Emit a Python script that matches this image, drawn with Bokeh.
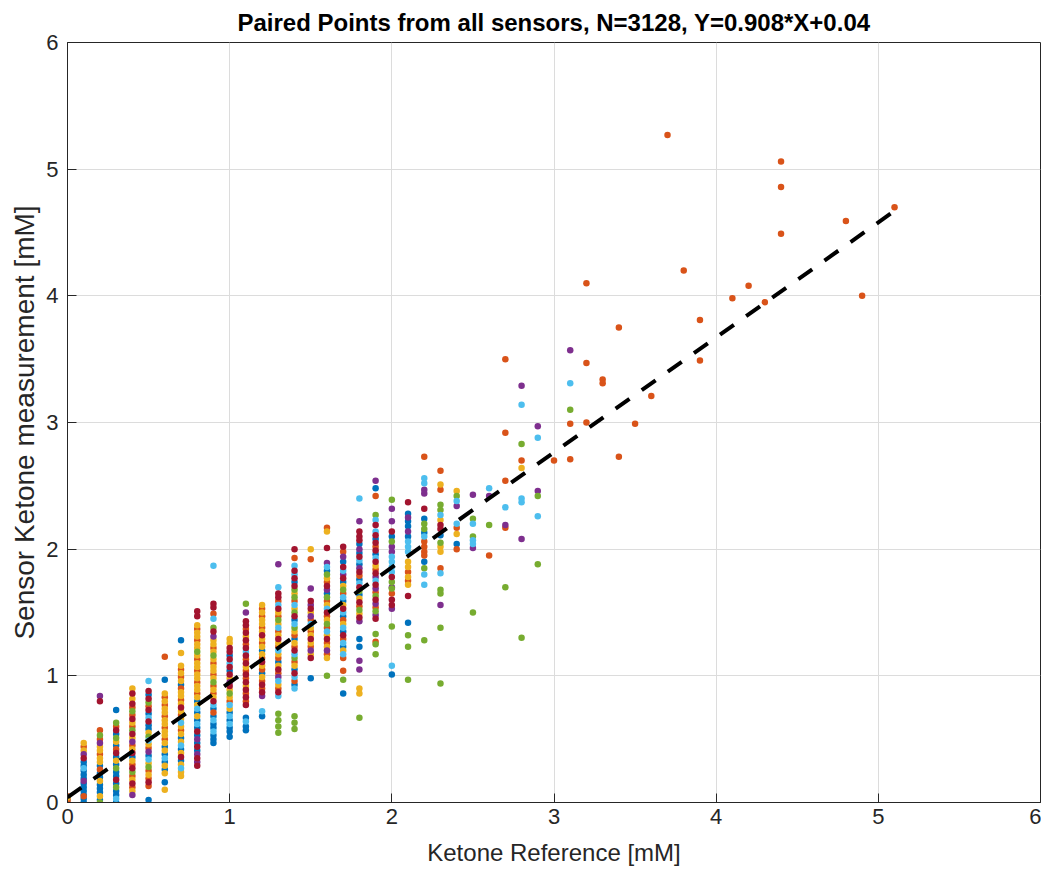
from bokeh.plotting import figure
from bokeh.models import Range1d, FixedTicker
from bokeh.embed import file_html
from bokeh.resources import INLINE

# ---- data: sensor readings grouped by plot colour, keyed by reference value ----
BLUE = {
    0.0: [0.03],
    0.1: [0.32, 0.29, 0.25, 0.22, 0.19, 0.15, 0.12, 0.09, 0.06, 0.03, 0.0],
    0.2: [0.29, 0.23, 0.2, 0.14, 0.11, 0.08, 0.02],
    0.3: [0.73, 0.54, 0.45, 0.36, 0.3, 0.24, 0.21, 0.15, 0.09, 0.06, 0.0],
    0.4: [0.36],
    0.5: [0.85, 0.7, 0.61, 0.58, 0.37, 0.02],
    0.6: [0.97, 0.44, 0.38, 0.32, 0.26, 0.16],
    0.7: [1.28, 0.93, 0.51, 0.42, 0.33],
    0.8: [0.8, 0.71, 0.65, 0.59, 0.53, 0.47, 0.41],
    0.9: [0.74, 0.68, 0.62, 0.59, 0.53, 0.5, 0.47],
    1.0: [1.16, 1.04, 0.71, 0.65, 0.59, 0.56, 0.52],
    1.1: [0.67, 0.6, 0.57],
    1.2: [1.2, 1.02, 0.68],
    1.3: [1.11],
    1.4: [1.74, 1.44, 1.29, 1.05, 0.93],
    1.5: [0.98],
    1.6: [1.83, 1.65],
    1.7: [1.9, 1.74, 1.59, 1.47, 1.35, 1.23, 0.86],
    1.8: [2.04, 1.97, 1.88, 1.76, 1.64, 1.29, 1.23],
    1.9: [2.48, 2.08, 1.96],
    2.0: [2.1, 1.01],
    2.1: [2.28, 2.22, 2.18, 2.1, 1.42],
    2.2: [2.24, 2.13, 1.9],
    2.3: [2.11],
    2.4: [2.04],
}
ORANGE = {
    0.0: [0.05, 0.02, 0.0],
    0.1: [0.44, 0.05],
    0.2: [0.57, 0.5, 0.38, 0.26],
    0.3: [0.6, 0.42],
    0.4: [0.75, 0.69, 0.6, 0.45, 0.3, 0.21, 0.12],
    0.5: [0.76, 0.43, 0.25, 0.19, 0.13],
    0.6: [1.15, 0.83, 0.77, 0.68, 0.59, 0.5],
    0.7: [1.05, 0.99, 0.9, 0.81, 0.69, 0.57],
    0.8: [1.37, 1.28, 1.13, 1.04, 0.95, 0.86],
    0.9: [1.49, 1.22, 1.1, 1.01, 0.92, 0.86, 0.71],
    1.0: [0.8],
    1.1: [1.37, 1.25, 1.13, 1.04, 0.98, 0.86, 0.8],
    1.2: [1.53, 1.47, 1.38, 1.26, 1.14, 1.05, 0.96, 0.9],
    1.3: [1.59, 1.47, 1.35, 1.23, 1.14, 1.02, 0.9],
    1.4: [1.93, 1.59, 1.32, 1.23, 1.11, 0.96],
    1.5: [1.92, 1.44, 1.35, 1.23],
    1.6: [2.17, 1.74, 1.59, 1.47, 1.38, 1.26, 1.17],
    1.7: [1.98, 1.65, 1.44, 1.29, 1.14, 1.04],
    1.8: [1.79, 1.55],
    1.9: [2.42, 2.02, 1.84, 1.66, 1.54, 1.27],
    2.0: [1.65],
    2.1: [1.82, 1.75],
    2.2: [2.73, 2.06, 2.02, 1.98, 1.95],
    2.3: [2.62, 2.47, 1.85],
    2.4: [2.17, 2.0],
    2.6: [1.95],
    2.7: [3.5, 2.92, 2.54, 2.17],
    2.8: [2.7],
    3.0: [2.7],
    3.1: [2.99, 2.71],
    3.2: [4.1, 3.47, 3.0],
    3.3: [3.34, 3.31],
    3.4: [3.75, 2.73],
    3.5: [2.99],
    3.6: [3.21],
    3.7: [5.27],
    3.8: [4.2],
    3.9: [3.81, 3.49],
    4.1: [3.98],
    4.2: [4.08],
    4.3: [3.95],
    4.4: [5.06, 4.86, 4.49],
    4.8: [4.59],
    4.9: [4.0],
    5.1: [4.7],
}
YELLOW = {
    0.0: [0.04],
    0.1: [0.47, 0.41],
    0.2: [0.44, 0.41, 0.35, 0.32, 0.17, 0.05],
    0.3: [0.48, 0.33],
    0.4: [0.9, 0.82, 0.63, 0.51, 0.42, 0.33, 0.18, 0.09],
    0.5: [0.55, 0.46, 0.31, 0.22],
    0.6: [0.86, 0.8, 0.74, 0.71, 0.65, 0.62, 0.56, 0.53, 0.47, 0.41, 0.29, 0.23, 0.1],
    0.7: [1.18, 1.08, 1.02, 0.96, 0.87, 0.84, 0.78, 0.72, 0.66, 0.6, 0.54, 0.48, 0.39, 0.3, 0.24, 0.21],
    0.8: [1.4, 1.34, 1.31, 1.25, 1.22, 1.16, 1.1, 1.07, 1.01, 0.98, 0.92, 0.89, 0.83, 0.77, 0.68],
    0.9: [1.28, 1.25, 1.19, 1.13, 1.07, 1.04, 0.98, 0.89, 0.83],
    1.0: [1.29, 1.26, 0.98, 0.89, 0.83, 0.74],
    1.1: [1.31, 1.07, 0.92],
    1.2: [1.56, 1.5, 1.44, 1.41, 1.35, 1.29, 1.23, 1.17, 1.08, 0.99],
    1.3: [1.5, 1.41, 1.32, 1.26, 1.17, 1.08, 0.93],
    1.4: [1.65, 1.53, 1.35, 1.26, 1.08],
    1.5: [2.0, 1.5, 1.38, 1.32, 1.26, 1.17],
    1.6: [2.14, 1.77, 1.56, 1.44, 1.32, 1.23, 1.14],
    1.7: [1.71, 1.56, 1.41, 1.2],
    1.8: [1.61, 1.49, 0.9, 0.86],
    1.9: [1.87],
    2.1: [1.9, 1.86, 1.78, 1.72],
    2.3: [2.51, 2.23, 2.02, 1.98],
    2.4: [2.46, 2.12],
    2.8: [2.64],
}
PURPLE = {
    0.1: [0.38, 0.17],
    0.2: [0.84, 0.47],
    0.4: [0.48, 0.06],
    0.5: [0.4],
    0.8: [0.5, 0.38, 0.32],
    0.9: [1.31],
    1.0: [0.95],
    1.1: [1.5],
    1.2: [0.84],
    1.3: [1.88, 0.99],
    1.5: [1.69, 1.56, 1.47, 1.2],
    1.6: [1.89, 1.68, 1.2],
    1.7: [1.94, 1.8],
    1.8: [2.22, 2.0, 1.85, 1.43, 1.12, 1.05],
    1.9: [2.54, 1.78, 1.69, 1.57, 1.48],
    2.0: [2.32, 2.22, 2.02, 1.98, 1.7, 1.53],
    2.1: [2.25, 2.14],
    2.2: [2.47, 2.44],
    2.3: [1.56],
    2.4: [2.34],
    2.5: [2.43, 2.01],
    2.6: [2.42],
    2.7: [2.19],
    2.8: [3.29, 2.08],
    2.9: [2.97, 2.46],
    3.1: [3.57],
}
GREEN = {
    0.2: [0.53, 0.0],
    0.3: [0.63, 0.51, 0.27, 0.12],
    0.4: [0.72, 0.57, 0.24],
    0.5: [0.79, 0.52, 0.28],
    0.8: [1.19],
    0.9: [1.38, 1.16, 0.95],
    1.0: [0.86],
    1.1: [1.57],
    1.3: [1.44, 0.7, 0.65, 0.6, 0.55],
    1.4: [1.68, 1.62, 1.5, 1.38, 1.14, 0.68, 0.63, 0.58],
    1.6: [1.8, 1.62, 1.41, 1.0],
    1.7: [1.68, 0.97],
    1.8: [1.67, 1.52, 0.67],
    1.9: [2.27, 1.63, 1.51, 1.33, 1.25, 1.17],
    2.0: [2.39, 2.06, 1.74, 1.69, 1.39],
    2.1: [1.32, 1.23, 0.97],
    2.2: [2.2, 2.16, 1.85, 1.28],
    2.3: [2.35, 2.31, 2.05, 1.68, 1.65, 1.38, 0.94],
    2.4: [2.42],
    2.5: [2.24, 2.1, 1.5],
    2.6: [2.19],
    2.7: [1.7],
    2.8: [2.83, 1.3],
    2.9: [2.42, 1.88],
    3.1: [3.1],
}
LIGHTBLUE = {
    0.1: [0.27],
    0.3: [0.03],
    0.5: [0.96, 0.67, 0.49, 0.34],
    0.6: [0.35],
    0.7: [0.63, 0.45, 0.27],
    0.8: [0.74, 0.62],
    0.9: [1.87, 1.45, 0.77, 0.65, 0.56],
    1.0: [1.1, 0.77, 0.68, 0.62],
    1.1: [1.19, 0.64],
    1.2: [0.72],
    1.3: [1.7, 1.56, 1.38, 1.2, 0.96, 0.84],
    1.4: [1.87, 1.8, 1.56, 1.41, 1.17, 0.99, 0.9],
    1.5: [1.41],
    1.6: [1.86, 1.53, 1.35],
    1.7: [1.83, 1.62, 1.5, 1.38, 1.26, 1.17],
    1.8: [2.4, 1.91, 1.73],
    1.9: [2.23, 2.14, 1.93, 1.75],
    2.0: [1.94, 1.9, 1.86, 1.82, 1.08],
    2.1: [2.06, 2.02, 1.98],
    2.2: [2.56, 2.52, 2.1, 1.8, 1.72],
    2.3: [2.27, 1.81],
    2.4: [2.38, 2.2],
    2.5: [2.2, 2.07, 2.04],
    2.6: [2.48],
    2.7: [2.33],
    2.8: [3.14, 2.4, 2.37],
    2.9: [2.88, 2.26],
    3.1: [3.31],
}
DARKRED = {
    0.1: [0.35],
    0.2: [0.8],
    0.3: [0.57, 0.39, 0.18],
    0.4: [0.86, 0.78, 0.66, 0.54, 0.39, 0.27, 0.15],
    0.5: [0.88, 0.82, 0.73, 0.64, 0.16],
    0.7: [0.75, 0.36],
    0.8: [1.51, 1.47, 0.56, 0.44, 0.35, 0.29],
    0.9: [1.57, 1.54, 1.35, 0.8],
    1.0: [1.22, 1.19, 1.13, 1.07, 1.01, 0.92],
    1.1: [1.43, 1.4, 1.34, 1.28, 1.22, 1.16, 1.1, 1.01, 0.95, 0.89, 0.83, 0.77],
    1.2: [1.32, 1.11, 0.93, 0.87],
    1.3: [1.65, 1.62, 1.53, 1.29, 1.05, 0.87],
    1.4: [2.0, 1.83, 1.77, 1.71, 1.47, 1.2, 1.02],
    1.5: [1.59, 1.53, 1.29, 1.14],
    1.6: [2.01, 1.71, 1.5, 1.29],
    1.7: [2.02, 1.86, 1.77, 1.53, 1.32],
    1.8: [2.14, 2.1, 2.07, 1.94, 1.82, 1.7, 1.58, 1.46],
    1.9: [2.19, 2.11, 2.05, 1.99, 1.9, 1.81, 1.72, 1.6, 1.45],
    2.0: [2.14, 1.78, 1.6, 1.56],
    2.1: [2.37, 1.63],
    2.2: [2.32],
    2.3: [2.19, 2.16],
}

# linear fit shown in the title: Y = 0.908*X + 0.04, drawn over the reference range
FIT_SLOPE = 0.908
FIT_INTERCEPT = 0.04
FIT_X = [0.0, 5.1]

TITLE = "Paired Points from all sensors, N=3128, Y=0.908*X+0.04"
X_LABEL = "Ketone Reference [mM]"
Y_LABEL = "Sensor Ketone measurement [mM]"
TICKS = [0, 1, 2, 3, 4, 5, 6]

SERIES = [
    (BLUE, "#0072BD"),
    (ORANGE, "#D95319"),
    (YELLOW, "#EDB120"),
    (PURPLE, "#7E2F8E"),
    (GREEN, "#77AC30"),
    (LIGHTBLUE, "#4DBEEE"),
    (DARKRED, "#A2142F"),
]

FONT = "Liberation Sans"
TXT = "#262626"

p = figure(width=1041, height=870, output_backend="svg", toolbar_location=None,
           x_range=Range1d(0, 6), y_range=Range1d(0, 6),
           min_border_left=67, min_border_right=1, min_border_bottom=68, min_border_top=38)

p.title.text = TITLE
p.title.align = "center"
p.title.text_font = FONT
p.title.text_font_size = "24px"
p.title.text_font_style = "bold"
p.title.text_color = "#000000"
p.title.standoff = 13

for data, color in SERIES:
    xs, ys = [], []
    for xv, yl in data.items():
        for yv in yl:
            xs.append(xv)
            ys.append(yv)
    p.scatter(xs, ys, size=6.5, fill_color=color, line_color=None)

fit_y = [FIT_SLOPE * v + FIT_INTERCEPT for v in FIT_X]
p.line(FIT_X, fit_y, line_color="black", line_width=4, line_dash="17 15")

for ax in (p.xaxis[0], p.yaxis[0]):
    ax.ticker = FixedTicker(ticks=TICKS)
    ax.major_tick_in = 9
    ax.major_tick_out = 0
    ax.minor_tick_in = 0
    ax.minor_tick_out = 0
    ax.axis_line_color = TXT
    ax.major_tick_line_color = TXT
    ax.major_label_text_color = TXT
    ax.major_label_text_font = FONT
    ax.major_label_text_font_size = "22px"
    ax.axis_label_text_font = FONT
    ax.axis_label_text_font_style = "normal"
    ax.axis_label_text_color = TXT

p.xaxis.axis_label = X_LABEL
p.xaxis.axis_label_text_font_size = "24px"
p.xaxis.major_label_standoff = 6
p.xaxis.axis_label_standoff = 12
p.yaxis.axis_label = Y_LABEL
p.yaxis.axis_label_text_font_size = "28px"
p.yaxis.major_label_standoff = 9
p.yaxis.axis_label_standoff = 3

p.xgrid.ticker = FixedTicker(ticks=TICKS)
p.ygrid.ticker = FixedTicker(ticks=TICKS)
p.grid.grid_line_color = "#dcdcdc"
p.grid.grid_line_width = 1
p.outline_line_color = TXT
p.background_fill_color = "white"
p.border_fill_color = "white"

open("out.html", "w").write(file_html(p, INLINE))
